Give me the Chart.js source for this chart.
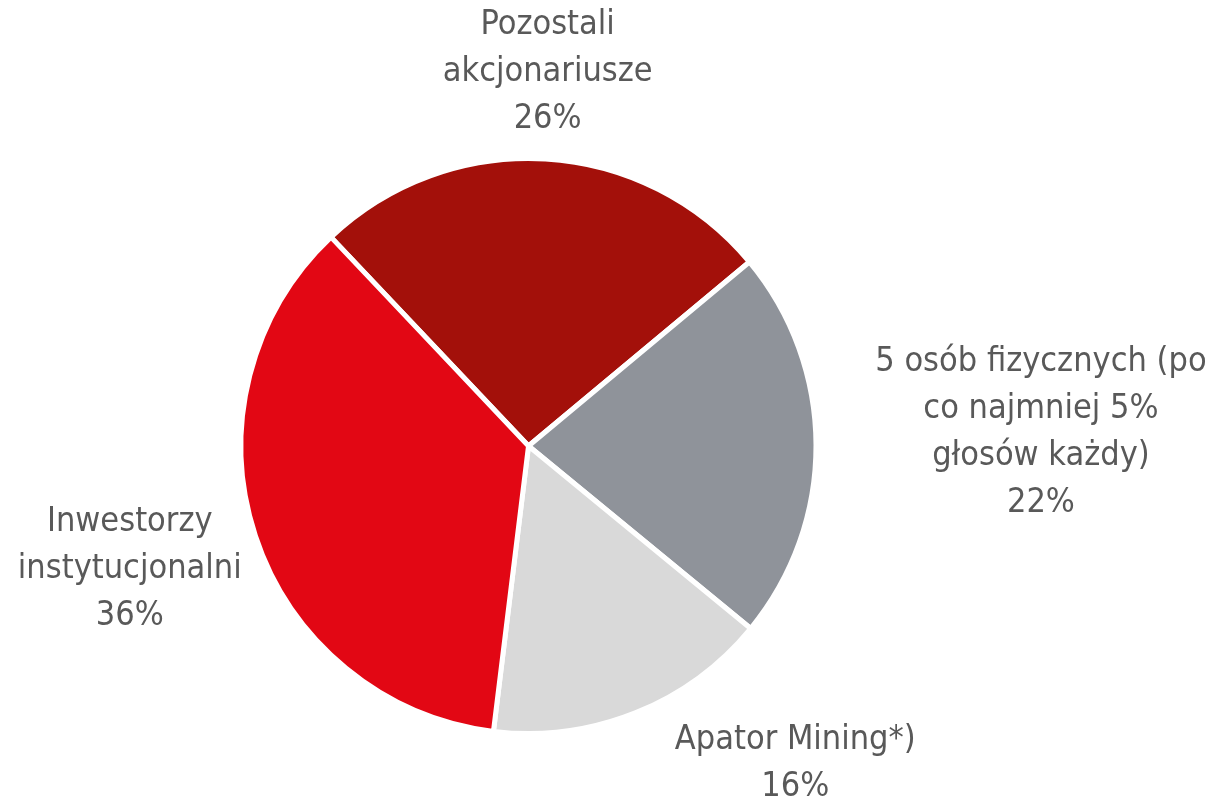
<!DOCTYPE html>
<html>
<head>
<meta charset="utf-8">
<script src="https://cdn.jsdelivr.net/npm/chart.js@4.4.1/dist/chart.umd.min.js"></script>
<style>
  html, body { margin: 0; padding: 0; background: #fff; }
  #wrap { width: 1210px; height: 797px; }
</style>
</head>
<body>
<div id="wrap"><canvas id="myChart" width="1210" height="797"></canvas></div>
<script>
// shareholder structure, % of votes
const categories = [
  ['Pozostali', 'akcjonariusze'],
  ['5 osób fizycznych (po', 'co najmniej 5%', 'głosów każdy)'],
  ['Apator Mining*)'],
  ['Inwestorzy', 'instytucjonalni']
];
const shares = [26, 22, 16, 36];
const colors = ['#A3100A', '#8F939A', '#D9D9D9', '#E20714'];

// label block centre, relative to pie centre, in units of the radius
const labelOffsets = [
  [0.066, -1.288],
  [1.767, -0.047],
  [0.920, 1.095],
  [-1.375, 0.424]
];

const outsideLabels = {
  id: 'outsideLabels',
  afterDraw(chart) {
    const ctx = chart.ctx;
    const arc = chart.getDatasetMeta(0).data[0];
    const r = arc.outerRadius + 2.5;
    const lineH = 47;
    ctx.save();
    ctx.font = '34px "DejaVu Sans Condensed", "DejaVu Sans", sans-serif';
    ctx.fillStyle = '#595959';
    ctx.textAlign = 'center';
    ctx.textBaseline = 'middle';
    categories.forEach((lines, i) => {
      const all = lines.concat([shares[i] + '%']);
      const cx = arc.x + labelOffsets[i][0] * r;
      const cy = arc.y + labelOffsets[i][1] * r;
      const top = cy - (all.length - 1) * lineH / 2;
      all.forEach((t, j) => ctx.fillText(t, cx, top + j * lineH));
    });
    ctx.restore();
  }
};

new Chart(document.getElementById('myChart'), {
  type: 'pie',
  data: {
    labels: categories.map(c => c.join(' ')),
    datasets: [{
      data: shares,
      backgroundColor: colors,
      borderColor: '#ffffff',
      borderWidth: 5,
      hoverOffset: 0
    }]
  },
  options: {
    responsive: false,
    animation: false,
    rotation: -43.4,
    layout: { padding: { left: 238, right: 391, top: 156, bottom: 61 } },
    plugins: {
      legend: { display: false },
      tooltip: { enabled: false }
    }
  },
  plugins: [outsideLabels]
});
</script>
</body>
</html>
